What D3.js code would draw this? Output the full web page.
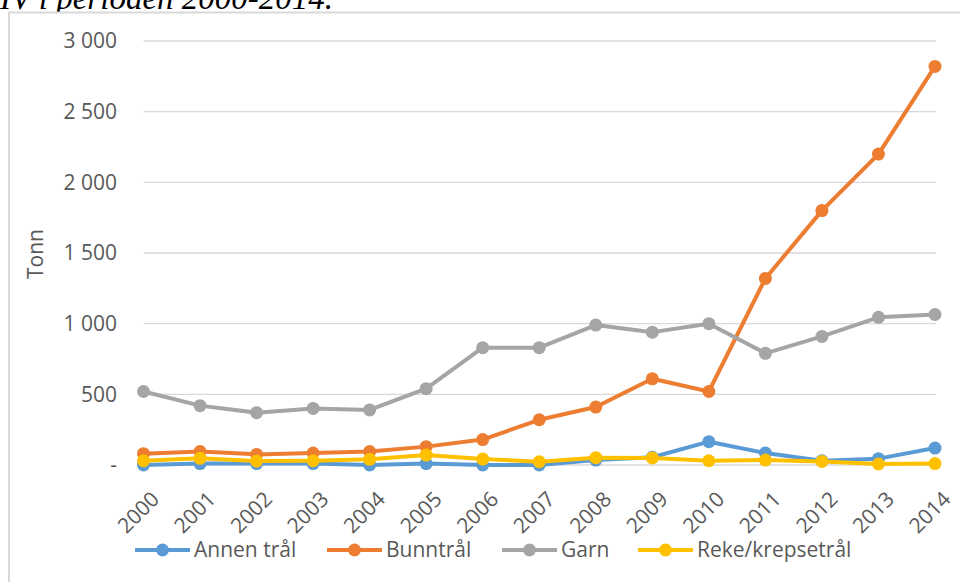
<!DOCTYPE html>
<html><head><meta charset="utf-8">
<script src="https://cdn.jsdelivr.net/npm/d3@7"></script>
<style>body{margin:0;background:#fff}svg{display:block}</style>
</head><body>
<svg id="c" width="960" height="582"></svg>
<script>
const years = ["2000","2001","2002","2003","2004","2005","2006","2007","2008","2009","2010","2011","2012","2013","2014"];
const annenTral = [0,10,10,10,0,10,0,0,35,55,165,85,30,45,120];
const bunntral = [80,95,75,85,95,130,180,320,410,610,520,1320,1800,2200,2820];
const garn = [520,420,370,400,390,540,830,830,990,940,1000,790,910,1045,1065];
const rekeKrepsetral = [30,47,28,30,40,70,42,23,52,50,30,35,25,7,10];
const yTicks = [0,500,1000,1500,2000,2500,3000];
const seriesNames = ["Annen trål","Bunntrål","Garn","Reke/krepsetrål"];
const colors = ["#5B9BD5","#ED7D31","#A5A5A5","#FFC000"];
const allSeries = [annenTral,bunntral,garn,rekeKrepsetral];

const svg = d3.select("#c");
const font = "'Open Sans', sans-serif";
const fs = 21;

// title fragment (clipped at top, as in the reference)
svg.append("text").attr("x",0).attr("y",9)
  .attr("font-family","'Liberation Serif', serif").attr("font-style","italic")
  .attr("font-size",33).attr("fill","#000").text("IV i perioden 2000-2014.");

// frame
svg.append("rect").attr("x",9).attr("y",12.5).attr("width",980).attr("height",600)
  .attr("fill","#fff").attr("stroke","#d9d9d9").attr("stroke-width",2);

const x = d3.scalePoint().domain(years).range([143.5,935]);
const y = d3.scaleLinear().domain([0,3000]).range([465,41]);

const fmt = v => v===0 ? "-" : d3.format(",")(v).replace(/,/g," ");

// gridlines
svg.append("g").selectAll("line").data(yTicks).join("line")
  .attr("x1",143.5).attr("x2",936).attr("y1",d=>y(d)).attr("y2",d=>y(d))
  .attr("stroke","#d9d9d9").attr("stroke-width",1.3);

// y axis labels
const yAxis = d3.axisLeft(y).tickValues(yTicks).tickFormat(fmt).tickSize(0).tickPadding(0);
const gy = svg.append("g").attr("transform","translate(117,0)").call(yAxis);
gy.select(".domain").remove();
gy.selectAll("text").attr("font-family",font).attr("font-size",fs).attr("fill","#595959");

// y axis title
svg.append("text").attr("transform","translate(43,254) rotate(-90)")
  .attr("text-anchor","middle").attr("font-family",font).attr("font-size",fs)
  .attr("fill","#595959").text("Tonn");

// x axis labels
const xAxis = d3.axisBottom(x).tickSize(0).tickPadding(0);
const gx = svg.append("g").attr("transform","translate(0,465)").call(xAxis);
gx.select(".domain").remove();
gx.selectAll("text").attr("font-family",font).attr("font-size",fs).attr("fill","#595959")
  .attr("text-anchor","end").attr("dy",null).attr("y",null)
  .attr("transform","translate(4,23) rotate(-45)")
  .attr("dominant-baseline","hanging");

// lines
const line = d3.line().x((d,i)=>x(years[i])).y(d=>y(d));
allSeries.forEach((s,k)=>{
  const g = svg.append("g");
  g.append("path").datum(s).attr("d",line).attr("fill","none")
    .attr("stroke",colors[k]).attr("stroke-width",4).attr("stroke-linejoin","round");
  g.selectAll("circle").data(s).join("circle")
    .attr("cx",(d,i)=>x(years[i])).attr("cy",d=>y(d)).attr("r",6.5).attr("fill",colors[k]);
});

// legend
const legX = [135,327,502,638];
const leg = svg.append("g");
seriesNames.forEach((n,k)=>{
  const g = leg.append("g").attr("transform",`translate(${legX[k]},550)`);
  g.append("line").attr("x1",0).attr("x2",55).attr("stroke",colors[k]).attr("stroke-width",4);
  g.append("circle").attr("cx",27.5).attr("r",6.5).attr("fill",colors[k]);
  g.append("text").attr("x",59).attr("dy","0.35em").attr("font-family",font).attr("font-size",fs)
    .attr("fill","#595959").text(n);
});
</script>
</body></html>
